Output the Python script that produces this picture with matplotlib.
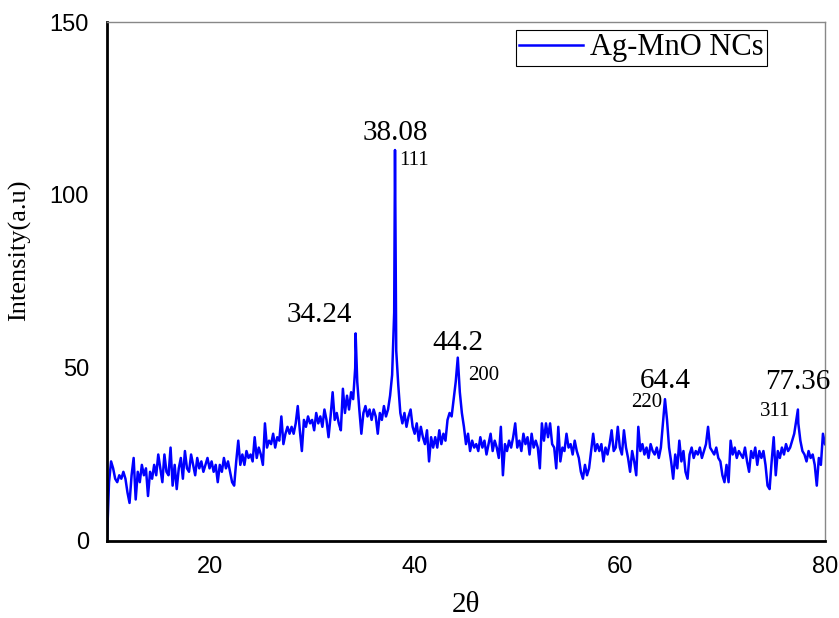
import numpy as np
import matplotlib.pyplot as plt

# XRD scan sampled every 0.2 degrees from 10 to 80 (2-theta)
theta_start = 10.0
theta_step = 0.2
intensity = [
    0, 17, 23, 21, 18, 17, 19, 18, 20, 18,
    14, 11, 19, 24, 12, 20, 17, 22, 19, 21,
    13, 20, 18, 22, 19, 25, 21, 17, 25, 20,
    19, 27, 16, 22, 15, 21, 24, 18, 26, 21,
    20, 25, 22, 19, 24, 21, 23, 20, 22, 24,
    21, 23, 20, 22, 17, 22, 20, 24, 21, 23,
    20, 17, 16, 23, 29, 22, 25, 22, 26, 24,
    25, 23, 30, 24, 27, 25, 22, 34, 27, 29,
    28, 31, 27, 30, 29, 36, 28, 31, 33, 31,
    33, 31, 34, 39, 32, 26, 35, 33, 36, 34,
    35, 32, 37, 34, 36, 33, 38, 35, 30, 36,
    43, 35, 37, 34, 32, 44, 37, 42, 38, 43,
    41, 50, 46, 38, 31, 37, 39, 36, 38, 35,
    38, 36, 31, 37, 35, 39, 36, 38, 42, 48,
    66, 55, 45, 37, 34, 37, 33, 36, 38, 33,
    31, 34, 29, 33, 30, 28, 32, 23, 30, 27,
    30, 27, 32, 28, 31, 29, 35, 37, 36, 41,
    46, 53, 43, 37, 33, 28, 31, 26, 29, 27,
    28, 26, 30, 27, 29, 25, 28, 31, 26, 29,
    27, 24, 33, 19, 28, 26, 29, 27, 30, 34,
    27, 29, 26, 31, 28, 30, 25, 31, 27, 29,
    27, 21, 34, 29, 34, 30, 34, 28, 27, 21,
    33, 23, 27, 26, 31, 27, 28, 25, 29, 26,
    24, 20, 18, 22, 19, 21, 26, 31, 26, 28,
    26, 28, 23, 27, 25, 28, 32, 26, 27, 33,
    27, 25, 32, 27, 24, 20, 26, 23, 19, 33,
    26, 28, 25, 27, 24, 28, 26, 25, 27, 24,
    27, 34, 41, 35, 27, 23, 18, 25, 21, 29,
    23, 26, 20, 18, 25, 27, 24, 26, 25, 27,
    24, 26, 28, 33, 27, 26, 25, 27, 24, 23,
    19, 17, 22, 17, 29, 25, 27, 24, 26, 25,
    24, 27, 23, 20, 26, 24, 27, 22, 26, 24,
    26, 22, 16, 15, 23, 30, 19, 26, 24, 27,
    25, 28, 26, 27, 29, 31, 35, 34, 29, 26,
    25, 23, 26, 24, 25, 22, 16, 24, 22, 31,
    28,
]

# indexed reflections
peak_pos = [34.24, 38.08, 44.2, 64.4, 77.36]
peak_int = [60, 113, 53, 41, 38]
peak_hkl = ['', '111', '200', '220', '311']

grid = theta_start + theta_step * np.arange(len(intensity))
keep = ~np.isin(np.round(grid, 2), peak_pos)
x = np.concatenate([grid[keep], peak_pos])
y = np.concatenate([np.array(intensity)[keep], peak_int])
order = np.argsort(x)
x, y = x[order], y[order]

serif = 'Liberation Serif'
sans = 'Liberation Sans'

fig = plt.figure(figsize=(8.39, 6.18), dpi=100)
ax = fig.add_axes([0.1275, 0.1246, 0.8558, 0.8398])

ax.plot(x, y, color='#0000ff', lw=1.8, label='Ag-MnO NCs')

# peak position labels and Miller indices (pixel offsets from the peak top)
pos_off = [(-36, 18), (0, 17), (0, 15), (0, 18), (0, 28)]
hkl_off = [(0, 0), (19, -10), (26, -18), (-18, -3), (-23, -2)]
for p, h, hkl, po, ho in zip(peak_pos, peak_int, peak_hkl, pos_off, hkl_off):
    ax.annotate(f'{p:g}', (p, h), xytext=po, textcoords='offset pixels',
                ha='center', va='center', fontsize=21, family=serif)
    if hkl:
        ax.annotate(hkl, (p, h), xytext=ho, textcoords='offset pixels',
                    ha='center', va='center', fontsize=15, family=serif)

ax.set_xlim(10, 80)
ax.set_ylim(0, 150)
ax.set_xticks([20, 40, 60, 80])
ax.set_yticks([0, 50, 100, 150])
ax.tick_params(length=0, labelsize=17)
ax.tick_params(axis='x', pad=11)
ax.tick_params(axis='y', pad=13)
for lab in ax.get_xticklabels() + ax.get_yticklabels():
    lab.set_family(sans)

for side in ['left', 'bottom']:
    ax.spines[side].set_linewidth(2)
    ax.spines[side].set_color('black')
for side in ['top', 'right']:
    ax.spines[side].set_linewidth(1)
    ax.spines[side].set_color('#888888')

ax.set_xlabel('2θ', family=serif, fontsize=21)
ax.set_ylabel('Intensity(a.u)', family=serif, fontsize=19)
ax.xaxis.set_label_coords(0.50, -0.098)
ax.yaxis.set_label_coords(-0.106, 0.56)

leg = ax.legend(loc='upper right', bbox_to_anchor=(0.919, 0.985),
                prop={'family': serif, 'size': 22}, fancybox=False,
                framealpha=1, edgecolor='black', borderpad=0.12,
                handlelength=2.1, handletextpad=0.2, borderaxespad=0)
leg.get_frame().set_linewidth(0.8)

fig.savefig('out.png', dpi=100)
